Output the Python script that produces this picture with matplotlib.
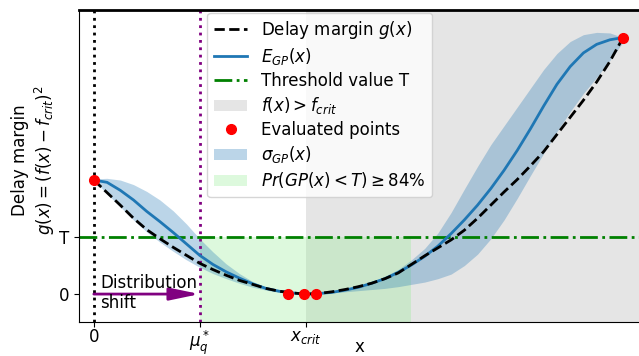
import numpy as np
import matplotlib
matplotlib.use('Agg')
import matplotlib.pyplot as plt
from matplotlib.lines import Line2D
from matplotlib.patches import Patch

# values (x in arbitrary units, T = 1)
x_grid = [0, 0.25, 0.5, 0.75, 1, 1.25, 1.5, 1.75, 2, 2.25, 2.5, 2.75, 3, 3.25, 3.5, 3.75,
          4, 4.25, 4.5, 4.75, 5, 5.25, 5.5, 5.75, 6, 6.25, 6.5, 6.75, 7, 7.25, 7.5, 7.75,
          8, 8.25, 8.5, 8.75, 9, 9.25, 9.5, 9.75, 10]
g_true = [2.0, 1.78, 1.56, 1.33, 1.13, 0.97, 0.82, 0.68, 0.54, 0.43, 0.33, 0.24, 0.17, 0.10, 0.05, 0.02,
          0.0, 0.01, 0.04, 0.08, 0.13, 0.19, 0.27, 0.37, 0.52, 0.67, 0.81, 0.95, 1.12, 1.33, 1.56, 1.79,
          2.01, 2.25, 2.5, 2.8, 3.1, 3.4, 3.72, 4.08, 4.5]
gp_mean = [2.0, 1.96, 1.82, 1.65, 1.45, 1.27, 1.08, 0.88, 0.68, 0.52, 0.39, 0.28, 0.18, 0.1, 0.05, 0.02,
           0.0, 0.01, 0.03, 0.07, 0.12, 0.19, 0.27, 0.38, 0.51, 0.66, 0.84, 1.06, 1.3, 1.56, 1.85, 2.17,
           2.52, 2.9, 3.3, 3.68, 3.99, 4.23, 4.38, 4.46, 4.5]
gp_upper = [2.02, 2.03, 2.0, 1.92, 1.8, 1.65, 1.46, 1.23, 0.97, 0.74, 0.53, 0.36, 0.22, 0.12, 0.05, 0.02,
            0.01, 0.02, 0.05, 0.09, 0.15, 0.22, 0.31, 0.43, 0.6, 0.8, 1.07, 1.43, 1.84, 2.24, 2.62, 2.95,
            3.28, 3.61, 3.94, 4.22, 4.43, 4.55, 4.59, 4.58, 4.5]
gp_lower = [2.0, 1.76, 1.53, 1.3, 1.09, 0.91, 0.75, 0.6, 0.47, 0.36, 0.27, 0.19, 0.12, 0.07, 0.03, 0.01,
            -0.01, 0.0, 0.02, 0.04, 0.06, 0.08, 0.1, 0.13, 0.17, 0.21, 0.27, 0.35, 0.5, 0.7, 0.97, 1.3,
            1.68, 2.08, 2.47, 2.85, 3.2, 3.52, 3.8, 4.1, 4.42]

eval_x = [0, 3.67, 3.97, 4.2, 10]
eval_y = [2.0, 0.0, 0.0, 0.0, 4.5]

T = 1.0
mu_q = 2.0
x_crit = 4.0
safe_end = 6.0
x_lim = (-0.28, 10.3)
y_lim = (-0.49, 4.98)

fig = plt.figure(figsize=(6.39, 3.56), dpi=100)
ax = fig.add_axes([0.1236, 0.0955, 0.8764, 0.876])

# shaded regions
ax.axvspan(x_crit, x_lim[1], color='gray', alpha=0.2, lw=0)
ax.fill_between([mu_q, safe_end], y_lim[0] - 1, T, color='lightgreen', alpha=0.3, lw=0)
ax.fill_between(x_grid, gp_lower, gp_upper, color='tab:blue', alpha=0.3, lw=0)

ax.axvline(0, color='black', ls=':', lw=2)
ax.axvline(mu_q, color='purple', ls=':', lw=2)
ax.axhline(T, color='green', ls='-.', lw=2)

ax.plot(x_grid, gp_mean, color='tab:blue', lw=2)
ax.plot(x_grid, g_true, color='black', ls='--', lw=2)
ax.plot(eval_x, eval_y, 'o', color='red', ms=7, zorder=5)

ax.annotate('', xy=(mu_q, 0), xytext=(0, 0),
            arrowprops=dict(arrowstyle='-|>,head_length=1.2,head_width=0.25',
                            color='purple', lw=2, mutation_scale=15,
                            shrinkA=0, shrinkB=0))
ax.text(0.12, 0.02, 'Distribution\nshift', va='center', ha='left', fontsize=12)

ax.set_xlim(*x_lim)
ax.set_ylim(*y_lim)
ax.set_xticks([0, mu_q, x_crit])
ax.set_xticklabels(['0', r'$\mu_q^*$', r'$x_{crit}$'], fontsize=12)
ax.tick_params(axis='x', pad=1)
ax.set_yticks([0, T])
ax.set_yticklabels(['0', 'T'], fontsize=12)
ax.set_xlabel('x', fontsize=12)
ax.xaxis.set_label_coords(0.5, -0.05)
ax.set_ylabel('Delay margin\n' + r'$g(x) = (f(x) - f_{crit})^2$', fontsize=12)
ax.yaxis.set_label_coords(-0.04, 0.52)
ax.spines['top'].set_linewidth(2)
ax.spines['right'].set_visible(False)

handles = [
    Line2D([], [], color='black', ls='--', lw=2),
    Line2D([], [], color='tab:blue', lw=2),
    Line2D([], [], color='green', ls='-.', lw=2),
    Patch(color='gray', alpha=0.2, lw=0),
    Line2D([], [], color='red', marker='o', ls='', ms=7),
    Patch(color='tab:blue', alpha=0.3, lw=0),
    Patch(color='lightgreen', alpha=0.3, lw=0),
]
labels = [
    r'Delay margin $g(x)$',
    r'$E_{GP}(x)$',
    'Threshold value T',
    r'$f(x) > f_{crit}$',
    'Evaluated points',
    r'$\sigma_{GP}(x)$',
    r'$Pr(GP(x) < T) \geq 84\%$',
]
ax.legend(handles, labels, loc='upper left', bbox_to_anchor=(0.225, 1.0),
          fontsize=12, borderaxespad=0.15, labelspacing=0.3)

fig.savefig('out.png', dpi=100)
